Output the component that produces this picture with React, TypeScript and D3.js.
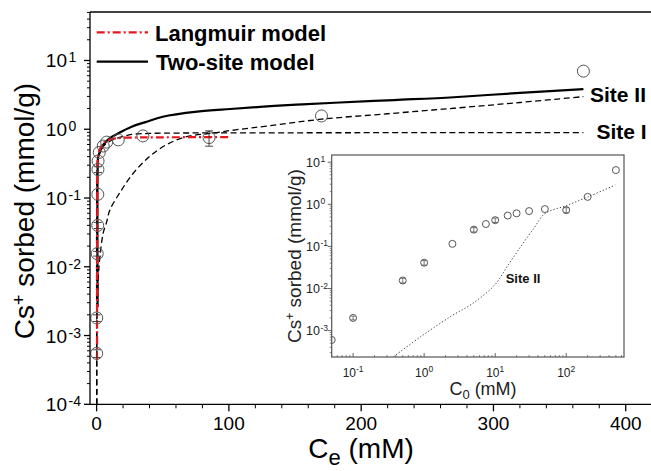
import React from 'react';
import * as d3 from 'd3';

const W = 651;
const H = 471;

// ---------- Main plot data (Ce in mM, sorbed in mmol/g) ----------
const mainCe = [0.05, 0.1, 0.45, 0.8, 0.9, 1.0, 1.1, 2.0, 5.0, 7.6, 16.4, 35, 85, 170, 368];
const mainQ = [0.00055, 0.0018, 0.0155, 0.04, 0.113, 0.26, 0.345, 0.46, 0.57, 0.65, 0.7, 0.8, 0.757, 1.56, 7.0];
const mainErr = [0.00007, 0.0002, 0.0012, 0.004, 0, 0.025, 0, 0, 0, 0, 0, 0, 0.19, 0, 0];

const langCe = [0.3, 0.5, 0.8, 1.5, 2.9, 5, 10, 17.6, 33, 60, 101];
const langQ = [0.00044, 0.05, 0.36, 0.45, 0.535, 0.63, 0.71, 0.747, 0.76, 0.765, 0.767];

const twoCe = [0.75, 0.8, 1.2, 2.5, 5, 10, 16.4, 26.5, 37, 50, 76, 101, 126, 151, 180, 225, 270, 320, 368];
const twoQ = [0.0026, 0.28, 0.4, 0.47, 0.59, 0.74, 0.875, 1.09, 1.27, 1.52, 1.8, 1.97, 2.13, 2.28, 2.43, 2.66, 2.92, 3.38, 3.82];

const site1Ce = [0.3, 0.5, 1.2, 2.5, 5, 10, 16.4, 26.5, 40, 60, 100, 200, 300, 368];
const site1Q = [0.0001, 0.3, 0.39, 0.456, 0.56, 0.67, 0.75, 0.84, 0.87, 0.88, 0.885, 0.89, 0.89, 0.89];

const site2Ce = [0.018, 0.06, 0.25, 0.7, 1.4, 2.5, 5, 7.6, 10, 17.6, 27.7, 40, 53, 68, 86, 105, 130, 170, 220, 270, 320, 368];
const site2Q = [0.0001, 0.00033, 0.0014, 0.0039, 0.0078, 0.014, 0.031, 0.045, 0.067, 0.12, 0.229, 0.4, 0.6, 0.78, 0.87, 0.98, 1.12, 1.4, 1.68, 2.02, 2.45, 2.98];

const mainXTicks = [0, 100, 200, 300, 400];
const mainYTickExp = [-4, -3, -2, -1, 0, 1];

// ---------- Inset data (C0 in mM) ----------
const insetC0 = [0.05, 0.1, 0.5, 1, 2.5, 5, 7.4, 10, 15, 20, 30, 50, 100, 200, 500];
const insetQ = [0.0006, 0.002, 0.0155, 0.041, 0.115, 0.25, 0.34, 0.42, 0.54, 0.61, 0.69, 0.77, 0.73, 1.5, 6.5];
const insetErr = [0, 0.0002, 0.002, 0.005, 0, 0.03, 0, 0.05, 0, 0, 0, 0, 0.1, 0, 0];

const insetSite2C0 = [0.37, 0.91, 2.4, 4.9, 10, 15, 23, 35, 50, 100, 200, 490];
const insetSite2Q = [0.00024, 0.00073, 0.0022, 0.0045, 0.0125, 0.035, 0.1, 0.27, 0.6, 0.93, 1.49, 2.87];

const insetXTickExp = [-1, 0, 1, 2];
const insetYTickExp = [-3, -2, -1, 0, 1];

const FONT = '"Liberation Sans", Arial, Helvetica, sans-serif';
const RED = '#e8161c';

export default function App() {
  // main scales
  const x = d3.scaleLinear().domain([-5, 425]).range([90, 658.8]);
  const y = d3.scaleLog().domain([1e-4, 50.7]).range([404.3, 12]);
  const L = 90, T = 12, B = 404.3, R = 651;

  // inset scales
  const xi = d3.scaleLog().domain([0.05, 650]).range([331.7, 624]);
  const yi = d3.scaleLog().domain([Math.pow(10, -3.627), Math.pow(10, 1.171)]).range([357, 155]);
  const iL = 331.7, iR = 624, iT = 155, iB = 357;

  const mkLine = (xs: number[], ys: number[], sx: any, sy: any) =>
    d3.line<number>()
      .x((_, i) => sx(xs[i]))
      .y((_, i) => sy(ys[i]))
      .curve(d3.curveCatmullRom.alpha(0.5))(xs) as string;

  const isMinor = (v: number) => Math.abs(Math.log10(v) - Math.round(Math.log10(v))) > 1e-6;
  const yMinor = y.ticks().filter(isMinor);
  const xMinor = d3.range(0, 421, 20).filter(v => v % 100 !== 0);

  const xiMinor = xi.ticks().filter(isMinor);
  const yiMinor = yi.ticks().filter(isMinor);

  return (
    <svg width={W} height={H} style={{ position: 'absolute', left: 0, top: 0, background: '#fff' }} fontFamily={FONT}>
      <defs>
        <clipPath id="mainClip"><rect x={L} y={T} width={R - L} height={B - T} /></clipPath>
        <clipPath id="insetClip"><rect x={iL} y={iT} width={iR - iL} height={iB - iT} /></clipPath>
      </defs>
      <rect x={0} y={0} width={W} height={H} fill="#fff" />

      {/* main curves */}
      <g clipPath="url(#mainClip)" fill="none">
        <path d={mkLine(site1Ce, site1Q, x, y)} stroke="#000" strokeWidth={1.3} strokeDasharray="6,3.5" />
        <path d={mkLine(site2Ce, site2Q, x, y)} stroke="#000" strokeWidth={1.3} strokeDasharray="6,3.5" />
        <path d={mkLine(twoCe, twoQ, x, y)} stroke="#000" strokeWidth={2.2} />
        <path d={mkLine(langCe, langQ, x, y)} stroke={RED} strokeWidth={2.2} strokeDasharray="8,3,2,3" />
        {mainCe.map((c, i) => {
          const cx = x(c), cy = y(mainQ[i]);
          const e = mainErr[i];
          return (
            <g key={i}>
              <circle cx={cx} cy={cy} r={6} stroke="#555" strokeWidth={1} fill="none" />
              {e > 0 && (
                <g stroke="#333" strokeWidth={0.9}>
                  <line x1={cx} x2={cx} y1={y(mainQ[i] + e)} y2={y(mainQ[i] - e)} />
                  <line x1={cx - 4} x2={cx + 4} y1={y(mainQ[i] + e)} y2={y(mainQ[i] + e)} />
                  <line x1={cx - 4} x2={cx + 4} y1={y(mainQ[i] - e)} y2={y(mainQ[i] - e)} />
                </g>
              )}
            </g>
          );
        })}
      </g>

      {/* main axes */}
      <g stroke="#000" strokeWidth={1.3}>
        <line x1={L} x2={L} y1={T} y2={B} />
        <line x1={L} x2={R} y1={T} y2={T} />
        <line x1={L} x2={R} y1={B} y2={B} />
        {mainYTickExp.map(e => (
          <line key={'ym' + e} x1={L - 6} x2={L} y1={y(Math.pow(10, e))} y2={y(Math.pow(10, e))} />
        ))}
        {yMinor.map((v, i) => (
          <line key={'yn' + i} x1={L - 3} x2={L} y1={y(v)} y2={y(v)} strokeWidth={1} />
        ))}
        {mainXTicks.map(v => (
          <line key={'xm' + v} x1={x(v)} x2={x(v)} y1={B} y2={B + 7} />
        ))}
        {xMinor.map(v => (
          <line key={'xn' + v} x1={x(v)} x2={x(v)} y1={B} y2={B + 4} strokeWidth={1} />
        ))}
      </g>
      {mainYTickExp.map(e => (
        <g key={'yl' + e} fontSize={19}>
          <text x={67} y={y(Math.pow(10, e)) + 7} textAnchor="end">10</text>
          <text x={68.5} y={y(Math.pow(10, e)) + 2} fontSize={14}>{String(e)}</text>
        </g>
      ))}
      {mainXTicks.map(v => (
        <text key={'xl' + v} x={x(v)} y={430} textAnchor="middle" fontSize={19}>{v}</text>
      ))}
      <text x={361} y={458} textAnchor="middle" fontSize={28}>
        C<tspan fontSize={22} dy={7}>e</tspan><tspan dy={-7}> (mM)</tspan>
      </text>
      <text transform="translate(34,211) rotate(-90)" textAnchor="middle" fontSize={28}>
        Cs<tspan fontSize={18} dy={-9}>+</tspan><tspan dy={9}> sorbed (mmol/g)</tspan>
      </text>

      {/* legend */}
      <line x1={96.7} x2={148} y1={32.3} y2={32.3} stroke={RED} strokeWidth={2.2} strokeDasharray="8,3,2,3" />
      <text x={155} y={41} fontSize={22} fontWeight="bold">Langmuir model</text>
      <line x1={96.7} x2={148} y1={61.7} y2={61.7} stroke="#000" strokeWidth={2.2} />
      <text x={156} y={70} fontSize={22} fontWeight="bold">Two-site model</text>

      <text x={590} y={101.7} fontSize={21} fontWeight="bold">Site II</text>
      <text x={596.5} y={139.3} fontSize={21} fontWeight="bold">Site I</text>

      {/* inset */}
      <rect x={iL} y={iT} width={iR - iL} height={iB - iT} fill="#fff" stroke="none" />
      <g clipPath="url(#insetClip)" fill="none">
        <path d={mkLine(insetSite2C0, insetSite2Q, xi, yi)} stroke="#444" strokeWidth={1} strokeDasharray="1.3,2" />
        {insetC0.map((c, i) => {
          const cx = xi(c), cy = yi(insetQ[i]);
          const e = insetErr[i];
          return (
            <g key={i}>
              <circle cx={cx} cy={cy} r={3.5} stroke="#444" strokeWidth={0.9} fill="none" />
              {e > 0 && (
                <g stroke="#444" strokeWidth={0.7}>
                  <line x1={cx} x2={cx} y1={yi(insetQ[i] + e)} y2={yi(insetQ[i] - e)} />
                  <line x1={cx - 2.5} x2={cx + 2.5} y1={yi(insetQ[i] + e)} y2={yi(insetQ[i] + e)} />
                  <line x1={cx - 2.5} x2={cx + 2.5} y1={yi(insetQ[i] - e)} y2={yi(insetQ[i] - e)} />
                </g>
              )}
            </g>
          );
        })}
      </g>
      <rect x={iL} y={iT} width={iR - iL} height={iB - iT} fill="none" stroke="#555" strokeWidth={1.2} />
      <g stroke="#555" strokeWidth={0.9}>
        {insetXTickExp.map(e => (
          <line key={'ixm' + e} x1={xi(Math.pow(10, e))} x2={xi(Math.pow(10, e))} y1={iB} y2={iB - 4} />
        ))}
        {xiMinor.map((v, i) => (
          <line key={'ixn' + i} x1={xi(v)} x2={xi(v)} y1={iB} y2={iB - 2} strokeWidth={0.7} />
        ))}
        {insetYTickExp.map(e => (
          <line key={'iym' + e} x1={iL} x2={iL - 4} y1={yi(Math.pow(10, e))} y2={yi(Math.pow(10, e))} />
        ))}
        {yiMinor.map((v, i) => (
          <line key={'iyn' + i} x1={iL} x2={iL - 2} y1={yi(v)} y2={yi(v)} strokeWidth={0.7} />
        ))}
      </g>
      {insetXTickExp.map(e => (
        <text key={'ixl' + e} x={xi(Math.pow(10, e))} y={376.7} textAnchor="middle" fontSize={12} fill="#222">
          10<tspan fontSize={8.5} dy={-5}>{String(e)}</tspan>
        </text>
      ))}
      {insetYTickExp.map(e => (
        <g key={'iyl' + e} fill="#222">
          <text x={320} y={yi(Math.pow(10, e)) + 4.5} textAnchor="end" fontSize={12.5}>10</text>
          <text x={320.5} y={yi(Math.pow(10, e))} fontSize={8.5}>{String(e)}</text>
        </g>
      ))}
      <text x={483} y={395} textAnchor="middle" fontSize={18} fill="#222">
        C<tspan fontSize={13} dy={4}>0</tspan><tspan dy={-4}> (mM)</tspan>
      </text>
      <text transform="translate(301,256) rotate(-90)" textAnchor="middle" fontSize={19} fill="#222">
        Cs<tspan fontSize={12} dy={-7}>+</tspan><tspan dy={7}> sorbed (mmol/g)</tspan>
      </text>
      <text x={505.7} y={283} fontSize={13} fontWeight="bold" fill="#111">Site II</text>
    </svg>
  );
}
